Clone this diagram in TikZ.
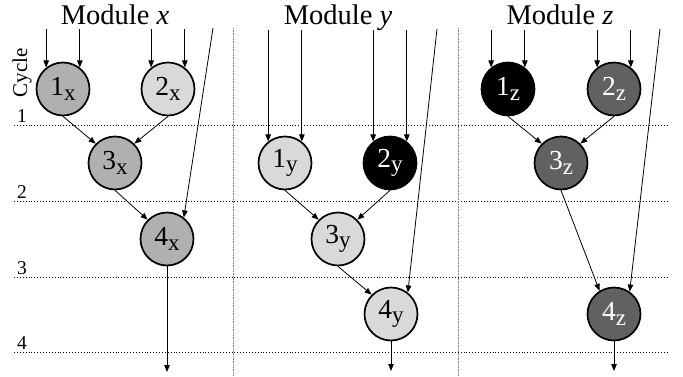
\documentclass[tikz,border=0pt]{standalone}
\usepackage{fontspec}
\setmainfont{Liberation Serif}
\usetikzlibrary{arrows.meta}
\definecolor{gmid}{gray}{0.69}
\definecolor{glight}{gray}{0.85}
\definecolor{gdark}{gray}{0.38}
\newcommand{\oplbl}[2]{#1\raisebox{-4.5pt}{\fontsize{23}{23}\selectfont #2}}
\tikzset{
 op/.style={circle, draw=black, line width=1.7pt, minimum size=53pt, inner sep=0pt, font=\fontsize{27.5}{27.5}\selectfont},
 opmid/.style={op, fill=gmid},
 oplight/.style={op, fill=glight},
 opdark/.style={op, fill=gdark, text=white},
 opblack/.style={op, fill=black, text=white},
 edge/.style={line width=0.8pt, -{Triangle[length=7pt,width=5.5pt]}},
 cyc/.style={black, dotted, line width=0.9pt},
 sep/.style={gray, line width=0.9pt, dash pattern=on 1pt off 0.6pt},
 ttl/.style={font=\fontsize{28.5}{28.5}\selectfont, anchor=base, inner sep=0pt},
 cnum/.style={font=\fontsize{19.5}{19.5}\selectfont, anchor=base west, inner sep=0pt},
}
\begin{document}
\begin{tikzpicture}[x=1pt, y=-1pt]
\fill[white] (0,0) rectangle (683,377);
\useasboundingbox (0,0) rectangle (683,377);
% cycle grid
\foreach \yy/\t in {125/1, 201/2, 277/3, 352/4} {
  \draw[cyc] (14,\yy) -- (667,\yy);
  \node[cnum] (c\t) at (17,\yy-2.5) {\t};
}
\node[rotate=90, font=\fontsize{21}{21}\selectfont, inner sep=0pt] (cyclbl) at (22,73) {Cycle};
% module separators
\draw[sep] (233,28) -- (233,377);
\draw[sep] (458,28) -- (458,377);
% titles
\node[ttl] (tx) at (115,25) {Module \textit{x}};
\node[ttl] (ty) at (338,25) {Module \textit{y}};
\node[ttl] (tz) at (560,25) {Module \textit{z}};
% nodes
\node[opmid]   (x1) at (63,89)   {\oplbl{1}{x}};
\node[oplight] (x2) at (168,89)  {\oplbl{2}{x}};
\node[opmid]   (x3) at (115,163) {\oplbl{3}{x}};
\node[opmid]   (x4) at (167,239) {\oplbl{4}{x}};
\node[oplight] (y1) at (285,163) {\oplbl{1}{y}};
\node[opblack] (y2) at (390,163) {\oplbl{2}{y}};
\node[oplight] (y3) at (338,239) {\oplbl{3}{y}};
\node[oplight] (y4) at (391,314) {\oplbl{4}{y}};
\node[opblack] (z1) at (508,89)  {\oplbl{1}{z}};
\node[opdark]  (z2) at (614,89)  {\oplbl{2}{z}};
\node[opdark]  (z3) at (561,163) {\oplbl{3}{z}};
\node[opdark]  (z4) at (614,314) {\oplbl{4}{z}};
% input arrows
\foreach \n/\top in {x1/29, x2/29, y1/30, y2/30, z1/30, z2/30} {
  \coordinate (\n inA) at (\n.128 |- 0,\top);
  \coordinate (\n inB) at (\n.52 |- 0,\top);
  \draw[edge] (\n inA) -- (\n.128);
  \draw[edge] (\n inB) -- (\n.52);
}
% long inputs
\coordinate (xl) at (213,28);
\coordinate (yl) at (437,29);
\coordinate (zl) at (660,29);
\draw[edge] (xl) -- (x4.52);
\draw[edge] (yl) -- (y4.52);
\draw[edge] (zl) -- (z4.55);
% internal edges
\draw[edge] (x1.south) -- (x3.135);
\draw[edge] (x2.south) -- (x3.45);
\draw[edge] (x3.south) -- (x4.135);
\draw[edge] (y1.south) -- (y3.135);
\draw[edge] (y2.south) -- (y3.45);
\draw[edge] (y3.south) -- (y4.135);
\draw[edge] (z1.south) -- (z3.135);
\draw[edge] (z2.south) -- (z3.45);
\draw[edge] (z3.south) -- (z4.122);
% outputs
\coordinate (xo) at (167,372);
\coordinate (yo) at (391,371);
\coordinate (zo) at (614,371);
\draw[edge] (x4.south) -- (xo);
\draw[edge] (y4.south) -- (yo);
\draw[edge] (z4.south) -- (zo);
\end{tikzpicture}
\end{document}
